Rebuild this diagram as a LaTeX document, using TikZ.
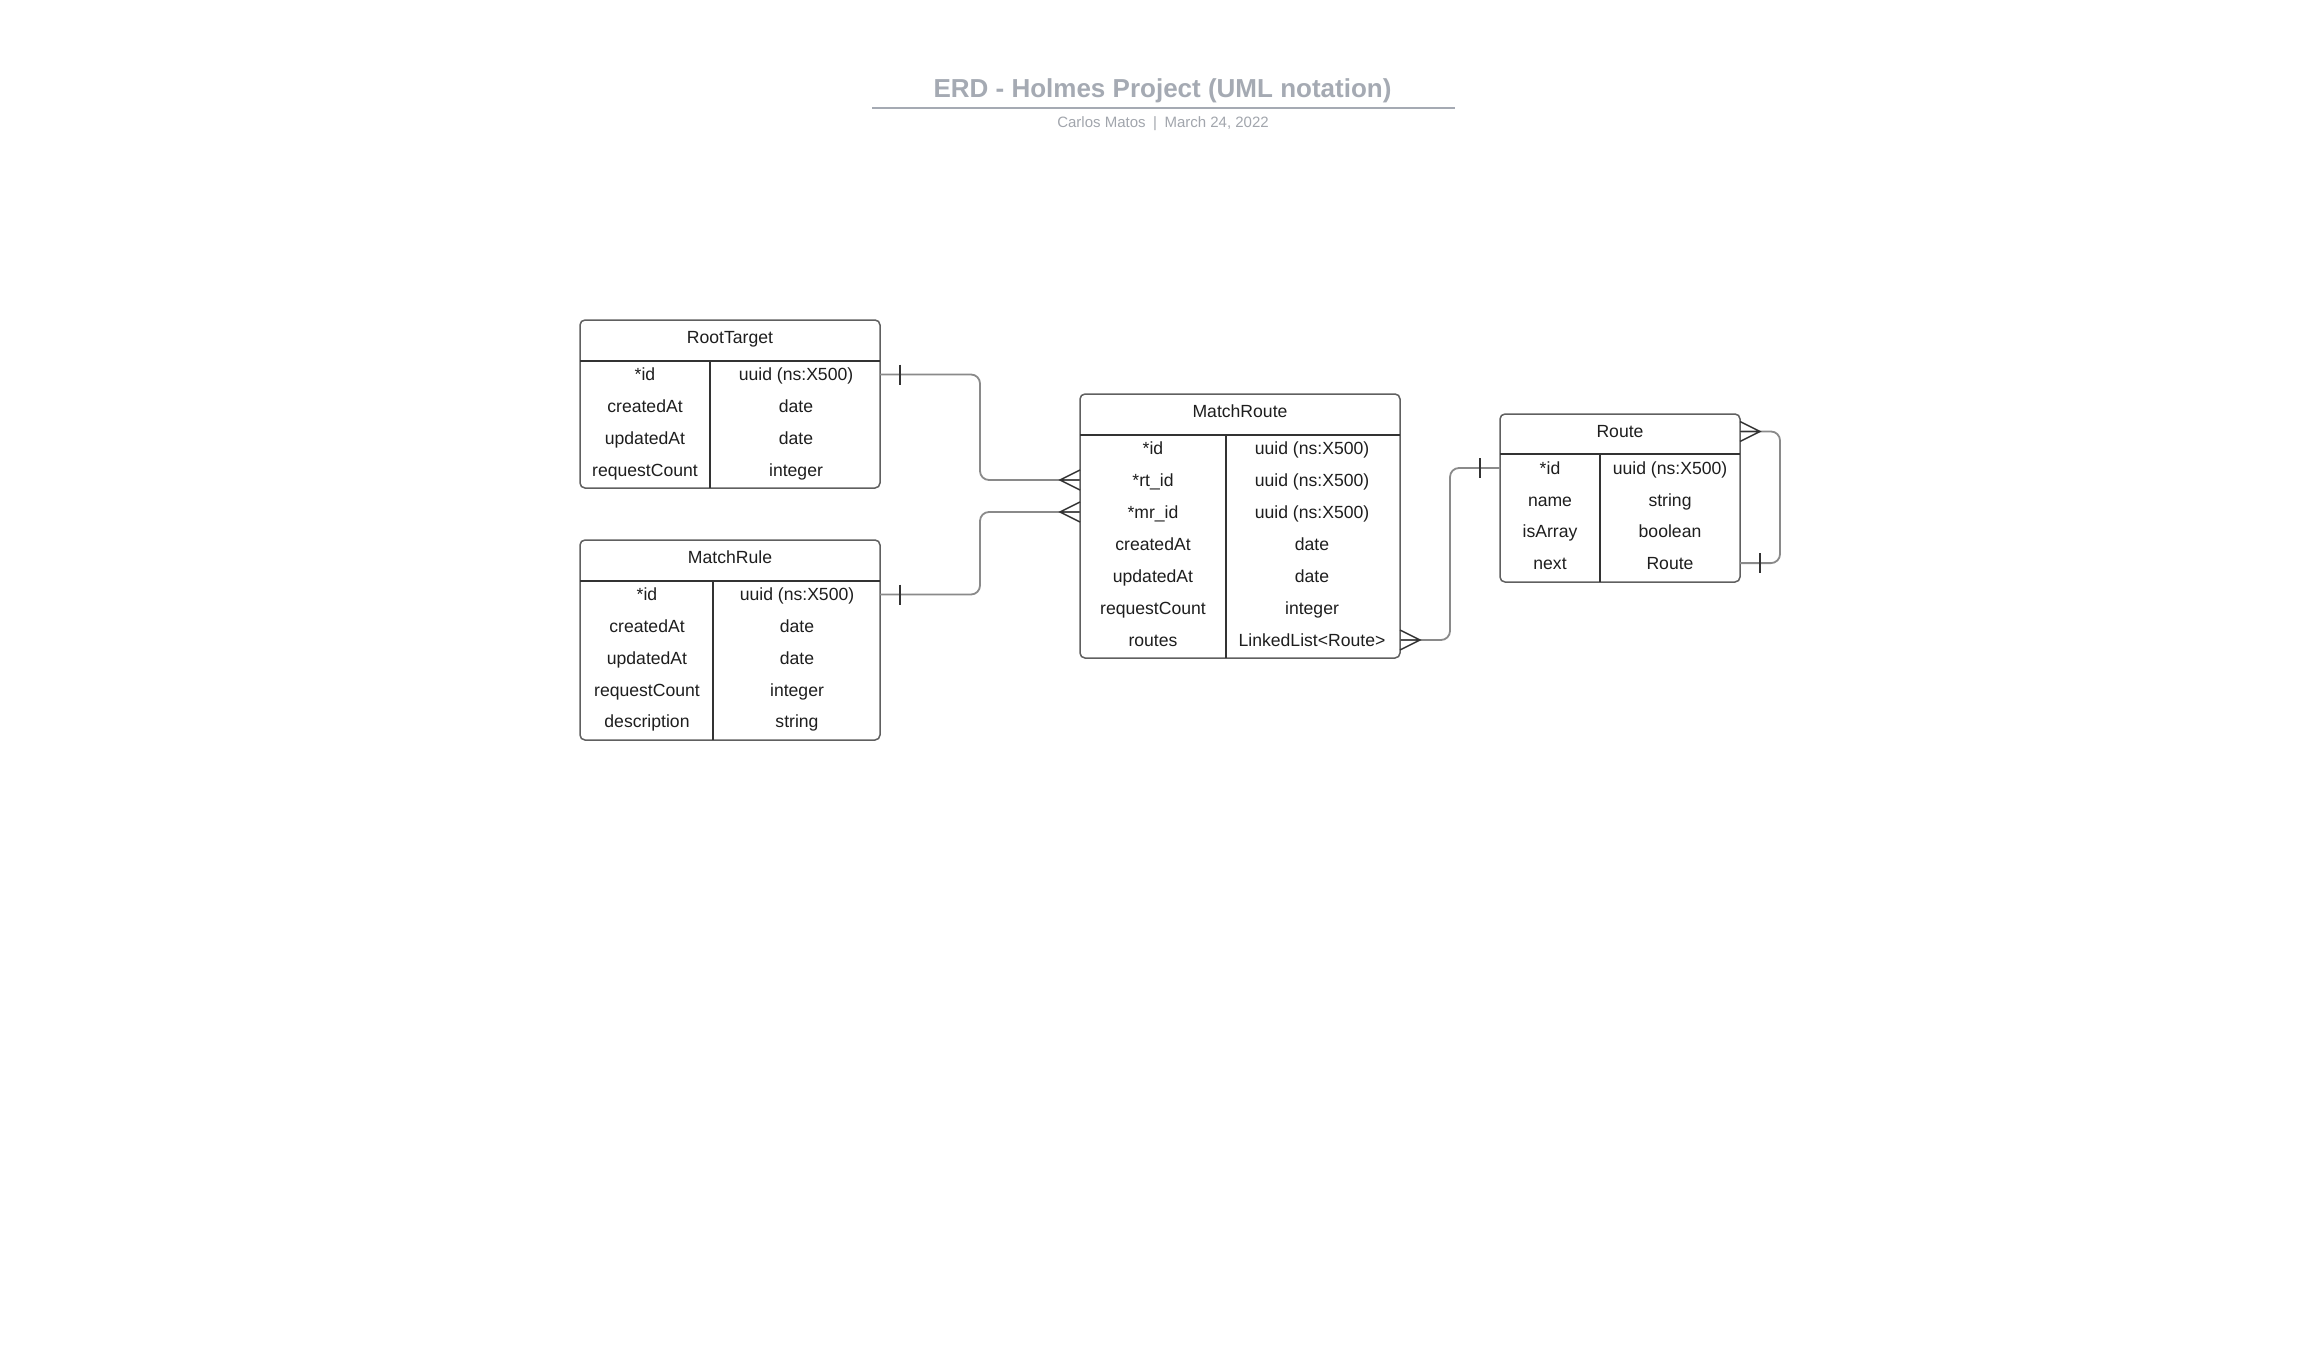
\documentclass[tikz,border=0pt]{standalone}
\usepackage{fontspec}
\setmainfont{Liberation Sans}
\usetikzlibrary{calc}
\definecolor{ttl}{HTML}{A5AAB3}
\definecolor{subc}{HTML}{A2A6AD}
\definecolor{edgec}{HTML}{606060}
\definecolor{connc}{HTML}{8A8A8A}
\definecolor{markc}{HTML}{333333}
\definecolor{txtc}{HTML}{1E1E1E}
\begin{document}
\begin{tikzpicture}[x=1pt,y=-1pt,
  tbl/.style={draw=edgec,line width=1.5pt,rounded corners=5pt,inner sep=0pt,outer sep=0pt,anchor=north west},
  sepline/.style={draw=markc,line width=1.3pt},
  cell/.style={text=txtc,font=\fontsize{17.6}{20}\selectfont,inner sep=0pt,text height=13.3pt,text depth=0.7pt,anchor=center},
  connline/.style={draw=connc,line width=1.8pt,rounded corners=9pt},
  mk/.style={draw=markc,line width=1.4pt}
]
\useasboundingbox[fill=white] (0,0) rectangle (2320,1359);

% title
\node[font=\bfseries\fontsize{26}{30}\selectfont,text=ttl,inner sep=0pt,anchor=base] (title) at (1162.5,98) {ERD - Holmes Project (UML notation)};
\coordinate (tl) at (872,108);
\coordinate (tr) at (1455,108);
\draw[draw=ttl,line width=2pt] (tl) -- (tr);
\node[font=\fontsize{15}{18}\selectfont,text=subc,inner sep=0pt,anchor=base] (subtitle) at (1163,128) {Carlos Matos\hspace{7.5pt}|\hspace{7.5pt}March 24, 2022};

% RootTarget
\node[tbl,minimum width=300pt,minimum height=168pt] (rt) at (580,320) {};
\draw[sepline] (580,361) -- (880,361);
\draw[sepline] (710,361) -- (710,488);
\node[cell] (rt-h) at (730,337.5) {RootTarget};
\foreach \a/\b [count=\i] in {{*id}/{uuid (ns:X500)},createdAt/date,updatedAt/date,requestCount/integer}{
  \node[cell] (rt-a\i) at (645,{374.5+(\i-1)*31.75}) {\a};
  \node[cell] (rt-b\i) at (796,{374.5+(\i-1)*31.75}) {\b};
}

% MatchRule
\node[tbl,minimum width=300pt,minimum height=200pt] (mr) at (580,540) {};
\draw[sepline] (580,581) -- (880,581);
\draw[sepline] (713,581) -- (713,740);
\node[cell] (mr-h) at (730,557.5) {MatchRule};
\foreach \a/\b [count=\i] in {{*id}/{uuid (ns:X500)},createdAt/date,updatedAt/date,requestCount/integer,description/string}{
  \node[cell] (mr-a\i) at (647,{594.5+(\i-1)*31.75}) {\a};
  \node[cell] (mr-b\i) at (797,{594.5+(\i-1)*31.75}) {\b};
}

% MatchRoute
\node[tbl,minimum width=320pt,minimum height=264pt] (mro) at (1080,394) {};
\draw[sepline] (1080,435) -- (1400,435);
\draw[sepline] (1226,435) -- (1226,658);
\node[cell] (mro-h) at (1240,411.5) {MatchRoute};
\foreach \a/\b [count=\i] in {{*id}/{uuid (ns:X500)},{*rt\_id}/{uuid (ns:X500)},{*mr\_id}/{uuid (ns:X500)},createdAt/date,updatedAt/date,requestCount/integer,routes/{LinkedList<Route>}}{
  \node[cell] (mro-a\i) at (1153,{448+(\i-1)*32}) {\a};
  \node[cell] (mro-b\i) at (1312,{448+(\i-1)*32}) {\b};
}

% Route
\node[tbl,minimum width=240pt,minimum height=168pt] (ro) at (1500,414) {};
\draw[sepline] (1500,454) -- (1740,454);
\draw[sepline] (1600,454) -- (1600,582);
\node[cell] (ro-h) at (1620,431.5) {Route};
\foreach \a/\b [count=\i] in {{*id}/{uuid (ns:X500)},name/string,isArray/boolean,next/Route}{
  \node[cell] (ro-a\i) at (1550,{468+(\i-1)*31.7}) {\a};
  \node[cell] (ro-b\i) at (1670,{468+(\i-1)*31.7}) {\b};
}

% bend coordinates
\coordinate (k1) at (980,0);
\coordinate (k3) at (1450,0);
\coordinate (k4) at (1780,0);

% RootTarget -> MatchRoute (rt_id)
\draw[connline] (rt.east |- rt-b1) -- (k1 |- rt-b1) -- (k1 |- mro-a2) -- (mro.west |- mro-a2);
\draw[mk] ($(rt.east |- rt-b1)+(20,-10)$) -- ++(0,20);
\draw[mk] ($(mro.west |- mro-a2)+(0,-10)$) -- ++(-20,10) -- ++(20,10) ++(-20,-10) -- ++(20,0);

% MatchRule -> MatchRoute (mr_id)
\draw[connline] (mr.east |- mr-b1) -- (k1 |- mr-b1) -- (k1 |- mro-a3) -- (mro.west |- mro-a3);
\draw[mk] ($(mr.east |- mr-b1)+(20,-10)$) -- ++(0,20);
\draw[mk] ($(mro.west |- mro-a3)+(0,-10)$) -- ++(-20,10) -- ++(20,10) ++(-20,-10) -- ++(20,0);

% MatchRoute routes -> Route
\draw[connline] (mro.east |- mro-b7) -- (k3 |- mro-b7) -- (k3 |- ro-a1) -- (ro.west |- ro-a1);
\draw[mk] ($(mro.east |- mro-b7)+(0,-10)$) -- ++(20,10) -- ++(-20,10) ++(20,-10) -- ++(-20,0);
\draw[mk] ($(ro.west |- ro-a1)+(-20,-10)$) -- ++(0,20);

% Route self reference
\draw[connline] (ro.east |- ro-h) -- (k4 |- ro-h) -- (k4 |- ro-b4) -- (ro.east |- ro-b4);
\draw[mk] ($(ro.east |- ro-h)+(0,-10)$) -- ++(20,10) -- ++(-20,10) ++(20,-10) -- ++(-20,0);
\draw[mk] ($(ro.east |- ro-b4)+(20,-10)$) -- ++(0,20);
\end{tikzpicture}
\end{document}
